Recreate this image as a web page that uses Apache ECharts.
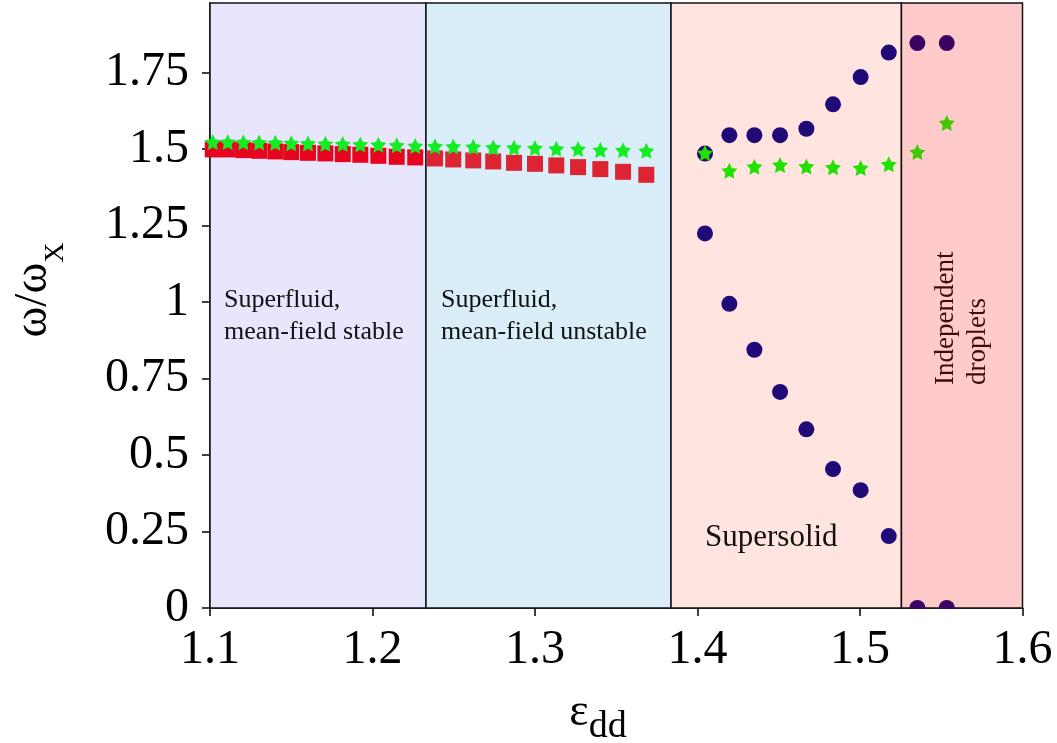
<!DOCTYPE html>
<html>
<head>
<meta charset="utf-8">
<script src="https://cdn.jsdelivr.net/npm/echarts@6/dist/echarts.min.js"></script>
<style>html,body{margin:0;padding:0;background:#fff;}#c{width:1057px;height:743px;}</style>
</head>
<body>
<div id="c"></div>
<script>
// ---- data ----
const xTicks = [1.1, 1.2, 1.3, 1.4, 1.5, 1.6];
const yTicks = [0, 0.25, 0.5, 0.75, 1, 1.25, 1.5, 1.75];
const regionEdges = [1.1, 1.2329, 1.3837, 1.5255, 1.6];
const regionColors = ['#e8e6fc', '#d9eef9', '#ffe4e0', '#ffcaca'];

// superfluid regime (squares and stars share x)
const sfX = [1.1017, 1.1109, 1.1205, 1.1302, 1.1402, 1.1500, 1.1603, 1.1710, 1.1817, 1.1925, 1.2036, 1.2149,
             1.2263, 1.2385, 1.2497, 1.2620, 1.2743, 1.2871, 1.3000, 1.3131, 1.3265, 1.3402, 1.3542, 1.3685];
const sfSquares = [1.4985, 1.4985, 1.4962, 1.4940, 1.4920, 1.4897, 1.4874, 1.4855, 1.4832, 1.4810, 1.4776, 1.4744,
                   1.4724, 1.4691, 1.4658, 1.4626, 1.4593, 1.4547, 1.4515, 1.4463, 1.4407, 1.4342, 1.4254, 1.4156];
const sfStars = [1.523, 1.523, 1.522, 1.521, 1.520, 1.519, 1.518, 1.517, 1.516, 1.515, 1.514, 1.512,
                 1.510, 1.509, 1.508, 1.507, 1.505, 1.504, 1.503, 1.501, 1.500, 1.497, 1.496, 1.494];

// supersolid / droplet regime
const ssX = [1.4046, 1.4196, 1.4350, 1.4508, 1.4670, 1.4834, 1.5004, 1.5177, 1.5353, 1.5534];
const ssUpper = [1.485, 1.545, 1.545, 1.545, 1.566, 1.646, 1.735, 1.815, 1.846, 1.846];
const ssLower = [1.224, 0.994, 0.844, 0.706, 0.584, 0.454, 0.385, 0.235, 0, 0];
const ssStars = [1.487, 1.429, 1.442, 1.448, 1.443, 1.440, 1.438, 1.450, 1.490, 1.585];

const yMax = 1.977;
const FONT = 'Liberation Serif';
const STAR = 'path://M50,0 L64.69,29.77 L97.55,34.55 L73.78,57.73 L79.39,90.45 L50,75 L20.61,90.45 L26.22,57.73 L2.45,34.55 L35.31,29.77 Z';

function regionOf(x) {
  for (let i = 0; i < regionEdges.length - 1; i++) if (x < regionEdges[i + 1]) return i;
  return regionEdges.length - 2;
}

const chart = echarts.init(document.getElementById('c'));

const squareData = sfX.map((x, i) => ({
  value: [x, sfSquares[i]],
  itemStyle: { color: regionOf(x) === 0 ? '#e8041f' : '#dd2432' }
}));
const sfStarData = sfX.map((x, i) => [x, sfStars[i]]);
const upperData = ssX.map((x, i) => ({
  value: [x, ssUpper[i]],
  itemStyle: { color: regionOf(x) === 3 ? '#3a0462' : '#1f0a78' }
}));
const lowerData = ssX.map((x, i) => ({
  value: [x, ssLower[i]],
  itemStyle: { color: regionOf(x) === 3 ? '#3a0462' : '#1f0a78' }
}));
const ssStarData = ssX.map((x, i) => ({
  value: [x, ssStars[i]],
  itemStyle: { color: regionOf(x) === 3 ? '#3fc800' : '#22e000' }
}));

const areas = regionColors.map((c, i) => [
  { xAxis: regionEdges[i], yAxis: 0, itemStyle: { color: c, opacity: 1, borderColor: '#111', borderWidth: 1.5 } },
  { xAxis: regionEdges[i + 1], yAxis: yMax }
]);

chart.setOption({
  animation: false,
  backgroundColor: '#ffffff',
  grid: { left: 210, right: 34.5, top: 3, bottom: 135 },
  xAxis: {
    type: 'value', min: 1.1, max: 1.6, interval: 0.1,
    axisLine: { show: true, onZero: false, lineStyle: { color: '#000', width: 1.5 } },
    axisTick: { show: true, length: 8, lineStyle: { color: '#000', width: 1.5 } },
    axisLabel: { fontFamily: FONT, fontSize: 48, color: '#000', margin: 18,
                 customValues: xTicks, formatter: v => v.toFixed(1) },
    splitLine: { show: false }
  },
  yAxis: {
    type: 'value', min: 0, max: yMax,
    axisLine: { show: true, lineStyle: { color: '#000', width: 1.5 } },
    axisTick: { show: true, length: 8, customValues: yTicks, lineStyle: { color: '#000', width: 1.5 } },
    axisLabel: { fontFamily: FONT, fontSize: 48, color: '#000', margin: 21, customValues: yTicks },
    splitLine: { show: false }
  },
  series: [
    {
      type: 'scatter', name: 'squares', symbol: 'rect', symbolSize: 16,
      itemStyle: { opacity: 1 }, data: squareData, z: 2,
      markArea: { silent: true, data: areas, label: { show: false } }
    },
    { type: 'scatter', name: 'upper', symbol: 'circle', symbolSize: 16, itemStyle: { opacity: 1 }, data: upperData, z: 3 },
    { type: 'scatter', name: 'lower', symbol: 'circle', symbolSize: 16, itemStyle: { opacity: 1 }, data: lowerData, z: 3 },
    { type: 'scatter', name: 'sfStars', symbol: STAR, symbolSize: 16, itemStyle: { color: '#14ec24', opacity: 1 }, data: sfStarData, z: 4 },
    { type: 'scatter', name: 'ssStars', symbol: STAR, symbolSize: 16, itemStyle: { opacity: 1 }, data: ssStarData, z: 4 }
  ]
});

function px(x, y) { return chart.convertToPixel({ gridIndex: 0 }, [x, y]); }
const p1 = px(1.1086, 0.952);
const p2 = px(1.2422, 0.952);
const p3 = px(1.4040, 0.229);
const p4 = px(1.5628, 0.729);
const base0 = px(regionEdges[3], 0);

chart.setOption({
  graphic: [
    // white strip below the plot so marks sitting on the axis are cut there
    { type: 'rect', z: 5, silent: true,
      shape: { x: base0[0] + 2, y: base0[1] + 1, width: 70, height: 14 },
      style: { fill: '#ffffff' } },
    { type: 'text', x: p1[0], y: p1[1], z: 10,
      style: { text: 'Superfluid,\nmean-field stable', font: '26px ' + FONT, fill: '#111', lineHeight: 32,
               textAlign: 'left', textVerticalAlign: 'middle' } },
    { type: 'text', x: p2[0], y: p2[1], z: 10,
      style: { text: 'Superfluid,\nmean-field unstable', font: '26px ' + FONT, fill: '#111', lineHeight: 32,
               textAlign: 'left', textVerticalAlign: 'middle' } },
    { type: 'text', x: p3[0] + 1, y: p3[1], z: 10,
      style: { text: 'Supersolid', font: '31px ' + FONT, fill: '#111', textAlign: 'left', textVerticalAlign: 'middle' } },
    { type: 'text', x: p4[0], y: p4[1], rotation: Math.PI / 2, z: 10,
      style: { text: 'Independent\ndroplets', font: '27px ' + FONT, fill: '#3a0c0c', lineHeight: 32,
               textAlign: 'left', textVerticalAlign: 'middle' } },
    { type: 'text', x: 40, y: 290, rotation: Math.PI / 2, z: 10,
      style: { text: '{a|ω/ω}{b|X}', textAlign: 'center', textVerticalAlign: 'middle',
               rich: { a: { fontFamily: FONT, fontSize: 47, fill: '#000', verticalAlign: 'top', padding: [0, 0, 12, 0] },
                       b: { fontFamily: FONT, fontSize: 28, fill: '#000', verticalAlign: 'bottom' } } } },
    { type: 'text', x: 598, y: 718, z: 10,
      style: { text: '{a|ε}{b|dd}', textAlign: 'center', textVerticalAlign: 'middle',
               rich: { a: { fontFamily: FONT, fontSize: 46, fill: '#000', verticalAlign: 'top', padding: [0, 0, 10, 0] },
                       b: { fontFamily: FONT, fontSize: 38, fill: '#000', verticalAlign: 'bottom' } } } }
  ]
});
</script>
</body>
</html>
